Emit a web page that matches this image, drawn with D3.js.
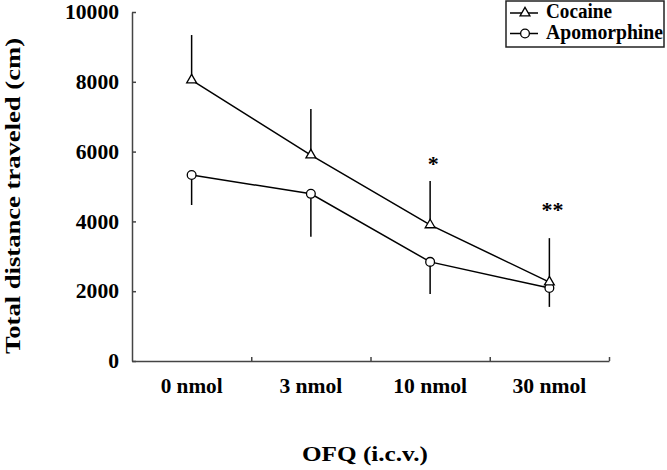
<!DOCTYPE html>
<html>
<head>
<meta charset="utf-8">
<script src="https://cdn.jsdelivr.net/npm/d3@7"></script>
<style>
  body { margin: 0; background: #fff; }
  text { font-family: "Liberation Serif", "Times New Roman", serif; font-weight: bold; fill: #000; }
</style>
</head>
<body>
<script>
// data
const doses = ["0 nmol", "3 nmol", "10 nmol", "30 nmol"];
const doseLabelWidths = [62, 63, 74, 74];
const cocaine = [8050, 5900, 3900, 2260];
const cocaineErr = [1290, 1320, 1260, 1260];     // drawn upward
const apomorphine = [5330, 4790, 2840, 2090];
const apomorphineErr = [860, 1230, 920, 540];    // drawn downward
const yTicks = [0, 2000, 4000, 6000, 8000, 10000];
const stars = ["", "", "*", "**"];
const starValues = [0, 0, 5790, 4470];

const width = 667, height = 470;

const svg = d3.select("body").append("svg")
    .attr("width", width)
    .attr("height", height);

const x = d3.scaleBand().domain(doses).range([132, 609]);
const xEdge = d3.scaleLinear().domain([0, doses.length]).range([132, 609]);
const y = d3.scaleLinear().domain([0, 10000]).range([361, 12]);
const cx = d => x(d) + x.bandwidth() / 2;

// y axis, ticks pointing inside
const yAxis = svg.append("g")
    .attr("transform", "translate(132,0)")
    .call(d3.axisLeft(y).tickValues(yTicks).tickFormat(d3.format("d"))
        .tickSizeInner(-4).tickSizeOuter(0).tickPadding(13));
yAxis.selectAll("path, line").attr("stroke", "#444").attr("stroke-width", 1.5);
yAxis.selectAll("text")
    .attr("font-size", 21)
    .attr("dy", "0.32em")
    .attr("textLength", d => String(d).length * 10.8)
    .attr("lengthAdjust", "spacingAndGlyphs");

// x axis: ticks at group boundaries, labels centred in each group
const xAxis = svg.append("g")
    .attr("transform", "translate(0,361)")
    .call(d3.axisBottom(xEdge).tickValues(d3.range(1, doses.length + 1))
        .tickSizeInner(-4).tickSizeOuter(0).tickFormat(""));
xAxis.selectAll("path, line").attr("stroke", "#444").attr("stroke-width", 1.5);

svg.append("g").selectAll("text")
    .data(doses)
    .enter()
    .append("text")
    .attr("x", d => cx(d))
    .attr("y", 393)
    .attr("text-anchor", "middle")
    .attr("font-size", 22)
    .attr("textLength", (d, i) => doseLabelWidths[i])
    .attr("lengthAdjust", "spacingAndGlyphs")
    .text(d => d);

// axis titles
svg.append("text")
    .attr("transform", "translate(20,196) rotate(-90)")
    .attr("text-anchor", "middle")
    .attr("font-size", 22)
    .attr("textLength", 316)
    .attr("lengthAdjust", "spacingAndGlyphs")
    .text("Total distance traveled (cm)");

svg.append("text")
    .attr("x", 365)
    .attr("y", 461)
    .attr("text-anchor", "middle")
    .attr("font-size", 22)
    .attr("textLength", 126)
    .attr("lengthAdjust", "spacingAndGlyphs")
    .text("OFQ (i.c.v.)");

// error bars (one sided, no caps)
svg.append("g").selectAll("line")
    .data(doses)
    .enter()
    .append("line")
    .attr("x1", d => cx(d)).attr("x2", d => cx(d))
    .attr("y1", (d, i) => y(cocaine[i]))
    .attr("y2", (d, i) => y(cocaine[i] + cocaineErr[i]))
    .attr("stroke", "#000").attr("stroke-width", 1.5);

svg.append("g").selectAll("line")
    .data(doses)
    .enter()
    .append("line")
    .attr("x1", d => cx(d)).attr("x2", d => cx(d))
    .attr("y1", (d, i) => y(apomorphine[i]))
    .attr("y2", (d, i) => y(apomorphine[i] - apomorphineErr[i]))
    .attr("stroke", "#000").attr("stroke-width", 1.5);

// lines
const line = d3.line().x(d => cx(d[0])).y(d => y(d[1]));
svg.append("path")
    .attr("d", line(d3.zip(doses, apomorphine)))
    .attr("fill", "none").attr("stroke", "#000").attr("stroke-width", 1.5);
svg.append("path")
    .attr("d", line(d3.zip(doses, cocaine)))
    .attr("fill", "none").attr("stroke", "#000").attr("stroke-width", 1.5);

// markers
const tri = d3.symbol().type(d3.symbolTriangle).size(42);
const circ = d3.symbol().type(d3.symbolCircle).size(60);

svg.append("g").selectAll("path")
    .data(doses)
    .enter()
    .append("path")
    .attr("d", circ)
    .attr("transform", (d, i) => `translate(${cx(d)},${y(apomorphine[i])})`)
    .attr("fill", "#fff").attr("stroke", "#000").attr("stroke-width", 1.3);

svg.append("g").selectAll("path")
    .data(doses)
    .enter()
    .append("path")
    .attr("d", tri)
    .attr("transform", (d, i) => `translate(${cx(d)},${y(cocaine[i])})`)
    .attr("fill", "#fff").attr("stroke", "#000").attr("stroke-width", 1.3);

// significance marks
svg.append("g").selectAll("text")
    .data(doses)
    .enter()
    .append("text")
    .attr("x", d => cx(d) + 3)
    .attr("y", (d, i) => y(starValues[i]))
    .attr("dy", "0.55em")
    .attr("text-anchor", "middle")
    .attr("font-size", 22)
    .attr("font-weight", "normal")
    .text((d, i) => stars[i]);

// legend
const legendItems = [
  { name: "Cocaine", symbol: tri, w: 66 },
  { name: "Apomorphine", symbol: circ, w: 117 }
];
const legend = svg.append("g");
legend.append("rect")
    .attr("x", 506).attr("y", 1)
    .attr("width", 158).attr("height", 46)
    .attr("fill", "#fff").attr("stroke", "#222").attr("stroke-width", 1.5);

const rows = legend.selectAll("g.row")
    .data(legendItems)
    .enter()
    .append("g")
    .attr("class", "row")
    .attr("transform", (d, i) => `translate(0,${13 + i * 20.5})`);
rows.append("line")
    .attr("x1", 510).attr("x2", 538)
    .attr("stroke", "#000").attr("stroke-width", 1.5);
rows.append("path")
    .attr("d", d => d.symbol())
    .attr("transform", "translate(525,0)")
    .attr("fill", "#fff").attr("stroke", "#000").attr("stroke-width", 1.3);
rows.append("text")
    .attr("x", 546)
    .attr("y", 5)
    .attr("font-size", 20)
    .attr("textLength", d => d.w)
    .attr("lengthAdjust", "spacingAndGlyphs")
    .text(d => d.name);
</script>
</body>
</html>
